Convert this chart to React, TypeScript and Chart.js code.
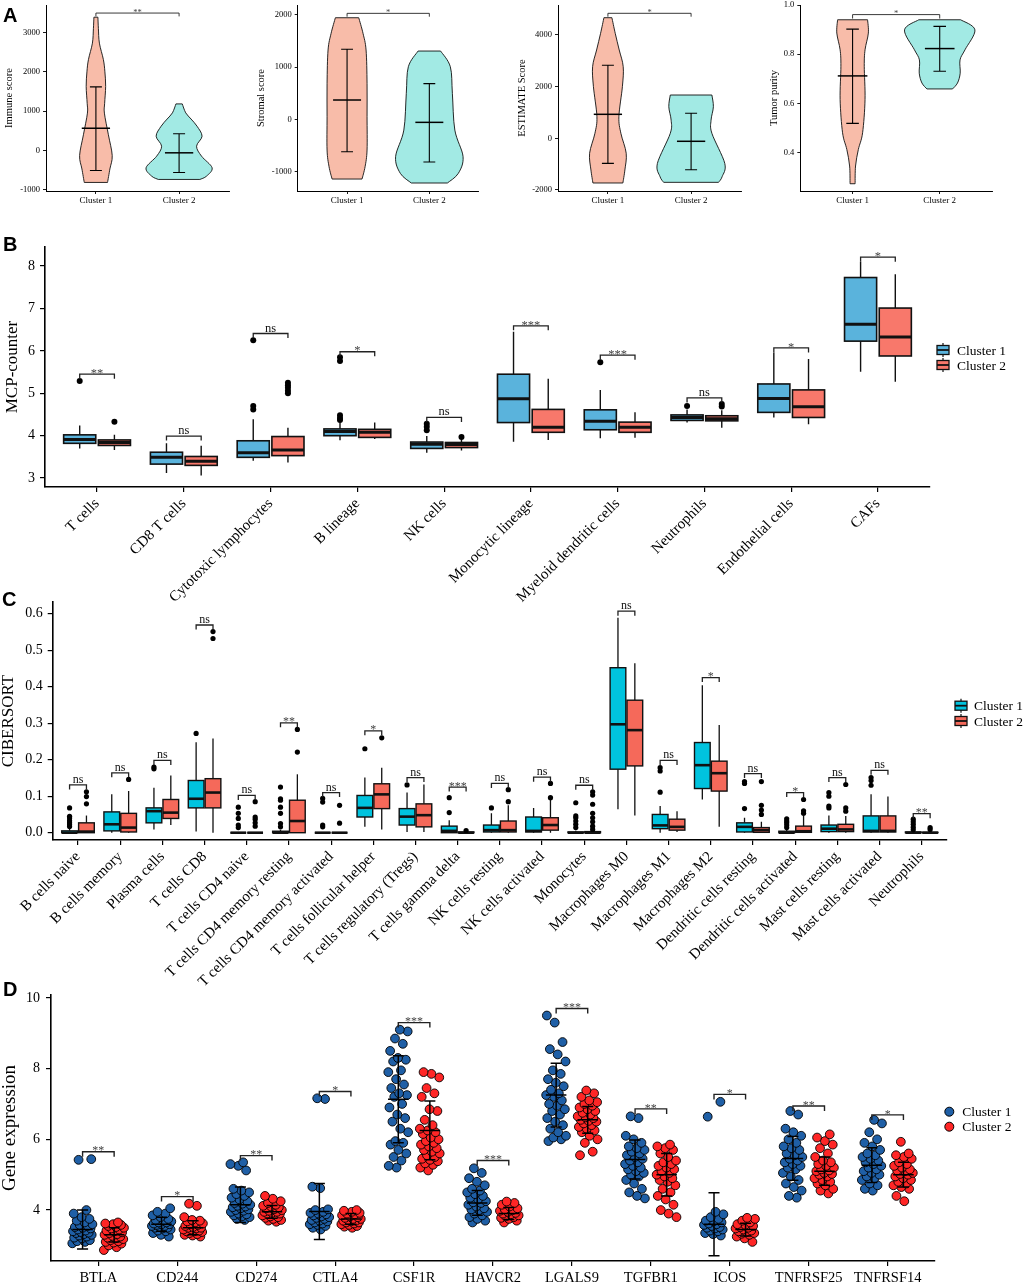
import React, { useEffect, useRef } from "react";
import { Chart, registerables } from "chart.js";
Chart.register(...registerables);

const SERIF = "'Liberation Serif', 'Times New Roman', Times, serif";
const SANS = "'Liberation Sans', Arial, Helvetica, sans-serif";

// ---------------- Panel A (violins) ----------------
const A_GROUPS = ["Cluster 1", "Cluster 2"];
const A_FILL = ["#F8BCA9", "#A2EAE4"];

const IMMUNE_TICKS = [-1000, 0, 1000, 2000, 3000];
const IMMUNE_C1 = [[3390, 0.024], [3100, 0.03], [2730, 0.042], [2310, 0.09], [2000, 0.108], [1630, 0.117], [1200, 0.105], [950, 0.102], [400, 0.15], [-130, 0.196], [-470, 0.168], [-812, 0.14]];
const IMMUNE_C2 = [[1185, 0.038], [957, 0.08], [800, 0.144], [617, 0.216], [363, 0.276], [109, 0.21], [-145, 0.27], [-440, 0.397], [-652, 0.33], [-736, 0.25]];
const IMMUNE_MEAN = [566, -59];
const IMMUNE_LO = [-507, -558];
const IMMUNE_HI = [1617, 424];

const STROMAL_TICKS = [-1000, 0, 1000, 2000];
const STROMAL_C1 = [[1946, 0.142], [1647, 0.194], [1328, 0.231], [690, 0.243], [50, 0.243], [-588, 0.243], [-908, 0.219], [-1144, 0.182]];
const STROMAL_C2 = [[1308, 0.137], [1008, 0.255], [498, 0.28], [-206, 0.31], [-716, 0.41], [-1036, 0.352], [-1220, 0.219]];
const STROMAL_MEAN = [370, -58];
const STROMAL_LO = [-620, -818];
const STROMAL_HI = [1341, 684];

const ESTIMATE_TICKS = [-2000, 0, 2000, 4000];
const ESTIMATE_C1 = [[4666, 0.048], [4062, 0.088], [3416, 0.136], [2770, 0.184], [1996, 0.174], [836, 0.132], [193, 0.156], [-580, 0.22], [-1226, 0.204], [-1729, 0.18]];
const ESTIMATE_C2 = [[1675, 0.25], [1222, 0.268], [700, 0.24], [193, 0.25], [-971, 0.405], [-1486, 0.373], [-1704, 0.33]];
const ESTIMATE_MEAN = [928, -116];
const ESTIMATE_LO = [-971, -1215];
const ESTIMATE_HI = [2824, 967];

const PURITY_TICKS = [0.4, 0.6, 0.8, 1.0];
const PURITY_C1 = [[0.94, 0.172], [0.886, 0.181], [0.818, 0.143], [0.751, 0.134], [0.616, 0.143], [0.481, 0.115], [0.413, 0.066], [0.346, 0.034], [0.274, 0.029]];
const PURITY_C2 = [[0.94, 0.24], [0.899, 0.404], [0.818, 0.29], [0.777, 0.233], [0.723, 0.235], [0.683, 0.204], [0.659, 0.147]];
const PURITY_MEAN = [0.712, 0.823];
const PURITY_LO = [0.519, 0.731];
const PURITY_HI = [0.902, 0.913];

const A_PANELS = [
  { title: "Immune score", min: -1030, max: 3700, ticks: IMMUNE_TICKS, dec: 0, violins: [IMMUNE_C1, IMMUNE_C2], mean: IMMUNE_MEAN, lo: IMMUNE_LO, hi: IMMUNE_HI, sig: "**", sigY: 3495, sigY2: 3410 },
  { title: "Stromal score", min: -1373, max: 2190, ticks: STROMAL_TICKS, dec: 0, violins: [STROMAL_C1, STROMAL_C2], mean: STROMAL_MEAN, lo: STROMAL_LO, hi: STROMAL_HI, sig: "*", sigY: 2030, sigY2: 1966 },
  { title: "ESTIMATE Score", min: -2039, max: 5157, ticks: ESTIMATE_TICKS, dec: 0, violins: [ESTIMATE_C1, ESTIMATE_C2], mean: ESTIMATE_MEAN, lo: ESTIMATE_LO, hi: ESTIMATE_HI, sig: "*", sigY: 4836, sigY2: 4704 },
  { title: "Tumor purity", min: 0.2445, max: 1.0, ticks: PURITY_TICKS, dec: 1, violins: [PURITY_C1, PURITY_C2], mean: PURITY_MEAN, lo: PURITY_LO, hi: PURITY_HI, sig: "*", sigY: 0.961, sigY2: 0.945 },
];
const A_LAYOUT = [
  { left: 0, axisW: 46, padR: 27, titlePad: 3.7 },
  { left: 256, axisW: 41.7, padR: 33.3, titlePad: 0 },
  { left: 512, axisW: 46, padR: 27, titlePad: 5.2 },
  { left: 768, axisW: 32.3, padR: 32, titlePad: 0.7 },
];

// ---------------- Panel B (MCP-counter) ----------------
const B_CATS = ["T cells", "CD8 T cells", "Cytotoxic lymphocytes", "B lineage", "NK cells", "Monocytic lineage", "Myeloid dendritic cells", "Neutrophils", "Endothelial cells", "CAFs"];
const B_YTICKS = [3, 4, 5, 6, 7, 8];
// [min, q1, median, q3, max]
const B_C1_BOX = [
  [3.70, 3.82, 3.91, 4.02, 4.24], [3.12, 3.33, 3.49, 3.61, 3.82], [3.41, 3.49, 3.60, 3.88, 4.39], [3.89, 4.00, 4.10, 4.16, 4.31], [3.60, 3.70, 3.80, 3.85, 3.99],
  [3.86, 4.31, 4.87, 5.45, 6.45], [3.94, 4.14, 4.34, 4.61, 5.08], [4.31, 4.36, 4.43, 4.49, 4.62], [4.43, 4.55, 4.88, 5.22, 5.96], [5.51, 6.23, 6.63, 7.73, 8.10],
];
const B_C2_BOX = [
  [3.66, 3.77, 3.84, 3.90, 4.02], [3.06, 3.30, 3.40, 3.51, 3.76], [3.37, 3.53, 3.66, 3.98, 4.19], [3.92, 3.96, 4.08, 4.15, 4.31], [3.65, 3.72, 3.79, 3.84, 3.95],
  [3.90, 4.08, 4.20, 4.62, 5.34], [3.95, 4.08, 4.20, 4.32, 4.55], [4.19, 4.35, 4.40, 4.47, 4.60], [4.27, 4.43, 4.68, 5.08, 5.81], [5.27, 5.88, 6.33, 7.01, 7.81],
];
const B_C1_OUT = [[5.29], [], [6.25, 4.70, 4.62], [5.85, 5.76, 4.48, 4.42, 4.37], [4.28, 4.21, 4.13], [], [5.73], [4.70], [], []];
const B_C2_OUT = [[4.33], [], [5.25, 5.19, 5.13, 5.06, 5.0], [], [3.97], [], [], [4.75, 4.69], [], []];
const B_SIG = ["**", "ns", "ns", "*", "ns", "***", "***", "ns", "*", "*"];
const B_SIG_Y = [5.45, 3.99, 6.41, 5.98, 4.43, 6.59, 5.90, 4.89, 6.07, 8.21];

// ---------------- Panel C (CIBERSORT) ----------------
const C_CATS = ["B cells naive", "B cells memory", "Plasma cells", "T cells CD8", "T cells CD4 naive", "T cells CD4 memory resting", "T cells CD4 memory activated", "T cells follicular helper", "T cells regulatory (Tregs)", "T cells gamma delta", "NK cells resting", "NK cells activated", "Monocytes", "Macrophages M0", "Macrophages M1", "Macrophages M2", "Dendritic cells resting", "Dendritic cells activated", "Mast cells resting", "Mast cells activated", "Neutrophils"];
const C_YTICKS = [0, 0.1, 0.2, 0.3, 0.4, 0.5, 0.6];
const C_C1_BOX = [
  [0, 0, 0, 0.005, 0.013], [0, 0.005, 0.023, 0.057, 0.105], [0.009, 0.027, 0.059, 0.068, 0.123], [0.003, 0.068, 0.093, 0.143, 0.248], [0, 0, 0, 0, 0],
  [0, 0, 0, 0.004, 0.008], [0, 0, 0, 0, 0], [0.016, 0.043, 0.068, 0.102, 0.151], [0.002, 0.021, 0.044, 0.066, 0.11], [0, 0, 0.005, 0.018, 0.034],
  [0, 0.002, 0.007, 0.021, 0.053], [0, 0.002, 0.005, 0.043, 0.068], [0, 0, 0, 0.002, 0.005], [0.064, 0.174, 0.297, 0.452, 0.589], [0, 0.011, 0.02, 0.05, 0.073],
  [0.091, 0.121, 0.185, 0.247, 0.404], [0, 0.002, 0.016, 0.027, 0.041], [0, 0, 0, 0.004, 0.009], [0, 0.003, 0.011, 0.021, 0.047], [0, 0.002, 0.005, 0.046, 0.105],
  [0, 0, 0, 0.002, 0.004],
];
const C_C2_BOX = [
  [0, 0, 0.003, 0.027, 0.047], [0, 0.002, 0.014, 0.053, 0.114], [0.021, 0.039, 0.055, 0.091, 0.157], [0, 0.068, 0.11, 0.148, 0.258], [0, 0, 0, 0, 0],
  [0, 0, 0.032, 0.089, 0.16], [0, 0, 0, 0, 0], [0.009, 0.066, 0.105, 0.134, 0.178], [0.002, 0.016, 0.048, 0.079, 0.132], [0, 0, 0, 0.002, 0.004],
  [0, 0.002, 0.007, 0.032, 0.075], [0, 0.007, 0.021, 0.041, 0.099], [0, 0, 0, 0.003, 0.006], [0.047, 0.183, 0.281, 0.363, 0.464], [0.002, 0.007, 0.016, 0.037, 0.059],
  [0.016, 0.114, 0.163, 0.196, 0.295], [0, 0.001, 0.007, 0.014, 0.03], [0, 0.001, 0.004, 0.018, 0.046], [0, 0.003, 0.009, 0.023, 0.046], [0, 0.002, 0.005, 0.046, 0.099],
  [0, 0, 0, 0.001, 0.003],
];
const C_C1_OUT = [
  [0.068, 0.045, 0.04, 0.033, 0.027, 0.022, 0.017], [], [0.18, 0.175], [0.272], [0.07, 0.053, 0.039, 0.021, 0.014],
  [0.125, 0.093, 0.089, 0.07, 0.053, 0.025, 0.016], [0.094, 0.084, 0.021, 0.016], [0.23], [0.131], [0.096, 0.055],
  [0.068], [], [0.082, 0.046, 0.041, 0.032, 0.023, 0.014], [], [0.178, 0.169, 0.111],
  [], [0.14, 0.135, 0.066], [0.038, 0.032, 0.027, 0.021, 0.014], [0.11, 0.1, 0.073, 0.068], [0.151, 0.143, 0.13],
  [0.037, 0.03, 0.023, 0.015, 0.008],
];
const C_C2_OUT = [
  [0.112, 0.099, 0.079], [0.146], [], [0.551, 0.532], [0.085, 0.043, 0.037, 0.027, 0.018],
  [0.283, 0.221], [0.075, 0.026], [0.26], [], [0.006],
  [0.118, 0.085], [0.135, 0.096], [0.112, 0.103, 0.078, 0.053, 0.041, 0.03, 0.018, 0.009], [], [],
  [], [0.14, 0.075, 0.062, 0.05], [0.091, 0.06, 0.053], [0.132, 0.068, 0.059], [],
  [0.014, 0.009],
];
const C_SIG = ["ns", "ns", "ns", "ns", "ns", "**", "ns", "*", "ns", "***", "ns", "ns", "ns", "ns", "ns", "*", "ns", "*", "ns", "ns", "**"];
const C_SIG_Y = [0.131, 0.164, 0.198, 0.569, 0.102, 0.301, 0.11, 0.279, 0.151, 0.125, 0.135, 0.152, 0.13, 0.607, 0.198, 0.425, 0.162, 0.11, 0.151, 0.171, 0.052];

// ---------------- Panel D (gene expression) ----------------
const D_GENES = ["BTLA", "CD244", "CD274", "CTLA4", "CSF1R", "HAVCR2", "LGALS9", "TGFBR1", "ICOS", "TNFRSF25", "TNFRSF14"];
const D_YTICKS = [4, 6, 8, 10];
const BTLA_C1 = [3.06, 3.1, 3.12, 3.15, 3.2, 3.22, 3.25, 3.28, 3.3, 3.32, 3.35, 3.36, 3.38, 3.4, 3.42, 3.45, 3.48, 3.5, 3.52, 3.55, 3.58, 3.6, 3.65, 3.7, 3.75, 3.8, 3.9, 4.0, 5.42, 5.44];
const BTLA_C2 = [2.87, 2.95, 3.0, 3.05, 3.08, 3.1, 3.12, 3.15, 3.18, 3.2, 3.22, 3.25, 3.27, 3.3, 3.32, 3.35, 3.37, 3.4, 3.42, 3.45, 3.48, 3.5, 3.52, 3.55, 3.58, 3.6, 3.62, 3.65];
const CD244_C1 = [3.25, 3.3, 3.35, 3.4, 3.42, 3.45, 3.48, 3.5, 3.5, 3.52, 3.55, 3.55, 3.58, 3.6, 3.6, 3.62, 3.65, 3.65, 3.68, 3.7, 3.72, 3.75, 3.8, 3.85, 3.9, 3.95, 4.05];
const CD244_C2 = [3.25, 3.28, 3.3, 3.32, 3.35, 3.38, 3.4, 3.4, 3.42, 3.45, 3.45, 3.48, 3.5, 3.5, 3.52, 3.55, 3.58, 3.6, 3.62, 3.65, 3.68, 3.7, 3.72, 3.8, 4.12, 4.18];
const CD274_C1 = [3.72, 3.75, 3.8, 3.82, 3.85, 3.88, 3.9, 3.95, 3.98, 4.0, 4.02, 4.05, 4.08, 4.1, 4.12, 4.15, 4.18, 4.2, 4.25, 4.3, 4.35, 4.4, 4.45, 4.5, 4.55, 4.6, 5.12, 5.25, 5.3, 5.35];
const CD274_C2 = [3.67, 3.7, 3.72, 3.75, 3.78, 3.8, 3.82, 3.85, 3.88, 3.9, 3.9, 3.92, 3.95, 3.95, 3.98, 4.0, 4.02, 4.05, 4.08, 4.1, 4.12, 4.15, 4.2, 4.25, 4.32, 4.4];
const CTLA4_C1 = [3.45, 3.5, 3.55, 3.58, 3.6, 3.62, 3.65, 3.68, 3.7, 3.72, 3.75, 3.78, 3.8, 3.82, 3.85, 3.88, 3.9, 3.92, 3.95, 4.0, 4.02, 4.62, 4.66, 7.14, 7.16];
const CTLA4_C2 = [3.5, 3.53, 3.55, 3.58, 3.6, 3.62, 3.65, 3.65, 3.68, 3.7, 3.7, 3.72, 3.75, 3.75, 3.78, 3.8, 3.82, 3.85, 3.88, 3.9, 3.92, 3.95, 3.98, 4.0];
const CSF1R_C1 = [5.2, 5.25, 5.4, 5.5, 5.6, 5.7, 5.85, 5.9, 5.95, 6.2, 6.3, 6.5, 6.6, 6.7, 6.9, 7.0, 7.2, 7.25, 7.3, 7.45, 7.55, 7.7, 7.9, 7.95, 8.2, 8.25, 8.3, 8.5, 8.7, 8.85, 9.05, 9.1];
const CSF1R_C2 = [5.12, 5.2, 5.28, 5.32, 5.38, 5.42, 5.45, 5.5, 5.55, 5.6, 5.65, 5.7, 5.75, 5.8, 5.85, 5.9, 5.95, 6.0, 6.05, 6.15, 6.2, 6.25, 6.3, 6.4, 6.55, 6.8, 6.85, 7.2, 7.3, 7.45, 7.75, 7.85, 7.9];
const HAVCR2_C1 = [3.65, 3.7, 3.75, 3.8, 3.85, 3.9, 3.95, 4.0, 4.02, 4.05, 4.1, 4.15, 4.2, 4.22, 4.25, 4.3, 4.35, 4.4, 4.45, 4.5, 4.55, 4.6, 4.7, 4.8, 4.9, 5.05, 5.18];
const HAVCR2_C2 = [3.65, 3.7, 3.75, 3.78, 3.8, 3.82, 3.85, 3.88, 3.9, 3.92, 3.95, 3.98, 4.0, 4.02, 4.05, 4.1, 4.15, 4.2, 4.24];
const LGALS9_C1 = [5.95, 6.0, 6.05, 6.1, 6.2, 6.3, 6.4, 6.5, 6.6, 6.7, 6.8, 6.85, 6.95, 7.0, 7.1, 7.2, 7.25, 7.3, 7.4, 7.5, 7.6, 7.7, 7.85, 7.95, 8.2, 8.4, 8.55, 8.75, 9.3, 9.5];
const LGALS9_C2 = [5.55, 5.65, 5.9, 6.0, 6.1, 6.2, 6.25, 6.3, 6.35, 6.4, 6.45, 6.5, 6.52, 6.55, 6.6, 6.62, 6.65, 6.7, 6.75, 6.8, 6.85, 6.9, 6.95, 7.0, 7.05, 7.1, 7.2, 7.3, 7.38];
const TGFBR1_C1 = [4.33, 4.4, 4.5, 4.6, 4.75, 4.85, 4.95, 5.0, 5.05, 5.1, 5.15, 5.2, 5.25, 5.3, 5.35, 5.4, 5.45, 5.5, 5.55, 5.6, 5.65, 5.7, 5.75, 5.8, 5.9, 6.0, 6.1, 6.6, 6.65];
const TGFBR1_C2 = [3.8, 3.9, 4.0, 4.15, 4.3, 4.4, 4.5, 4.6, 4.7, 4.8, 4.85, 4.9, 4.95, 5.0, 5.05, 5.1, 5.15, 5.2, 5.25, 5.3, 5.35, 5.4, 5.5, 5.6, 5.7, 5.75, 5.8, 5.85];
const ICOS_C1 = [3.28, 3.32, 3.35, 3.4, 3.42, 3.45, 3.48, 3.5, 3.52, 3.55, 3.58, 3.6, 3.62, 3.65, 3.68, 3.7, 3.75, 3.8, 3.88, 3.95, 6.64, 7.06];
const ICOS_C2 = [3.1, 3.2, 3.25, 3.3, 3.33, 3.35, 3.38, 3.4, 3.42, 3.45, 3.48, 3.5, 3.52, 3.55, 3.58, 3.6, 3.65, 3.7, 3.75, 3.78];
const TNFRSF25_C1 = [4.35, 4.4, 4.55, 4.65, 4.75, 4.85, 4.95, 5.05, 5.15, 5.2, 5.25, 5.3, 5.35, 5.4, 5.45, 5.5, 5.55, 5.6, 5.7, 5.75, 5.8, 5.9, 6.0, 6.1, 6.2, 6.3, 6.7, 6.8];
const TNFRSF25_C2 = [4.47, 4.55, 4.6, 4.7, 4.75, 4.8, 4.85, 4.9, 4.95, 5.0, 5.02, 5.05, 5.1, 5.12, 5.15, 5.2, 5.25, 5.3, 5.35, 5.4, 5.5, 5.6, 5.75, 5.85, 5.95, 6.05, 6.14];
const TNFRSF14_C1 = [4.55, 4.6, 4.7, 4.75, 4.85, 4.9, 4.95, 5.0, 5.05, 5.1, 5.15, 5.2, 5.25, 5.3, 5.35, 5.4, 5.45, 5.5, 5.55, 5.6, 5.7, 5.8, 5.9, 6.0, 6.2, 6.45, 6.55];
const TNFRSF14_C2 = [4.25, 4.4, 4.6, 4.65, 4.7, 4.75, 4.8, 4.85, 4.9, 4.95, 5.0, 5.02, 5.05, 5.1, 5.12, 5.15, 5.2, 5.25, 5.3, 5.35, 5.45, 5.5, 5.55, 5.6, 5.93];
const D_C1_POINTS = [BTLA_C1, CD244_C1, CD274_C1, CTLA4_C1, CSF1R_C1, HAVCR2_C1, LGALS9_C1, TGFBR1_C1, ICOS_C1, TNFRSF25_C1, TNFRSF14_C1];
const D_C2_POINTS = [BTLA_C2, CD244_C2, CD274_C2, CTLA4_C2, CSF1R_C2, HAVCR2_C2, LGALS9_C2, TGFBR1_C2, ICOS_C2, TNFRSF25_C2, TNFRSF14_C2];
const D_C1_MEAN = [3.45, 3.6, 4.15, 3.96, 7.13, 4.2, 7.25, 5.43, 3.6, 5.46, 5.27];
const D_C1_SD = [0.55, 0.2, 0.5, 0.79, 1.23, 0.35, 0.9, 0.55, 0.89, 0.62, 0.49];
const D_C2_MEAN = [3.3, 3.5, 3.95, 3.75, 6.25, 3.9, 6.55, 5.0, 3.45, 5.1, 5.0];
const D_C2_SD = [0.2, 0.2, 0.18, 0.15, 0.83, 0.17, 0.38, 0.6, 0.18, 0.4, 0.35];
const D_SIG = ["**", "*", "**", "*", "***", "***", "***", "**", "*", "**", "*"];
const D_SIG_Y = [5.65, 4.38, 5.54, 7.35, 9.3, 5.4, 9.7, 6.86, 7.27, 6.94, 6.69];

const LEGEND_LABELS = ["Cluster 1", "Cluster 2"];

// ---------------- helpers ----------------
function smoothThrough(ctx: any, pts: number[][]) {
  for (let i = 0; i < pts.length - 1; i++) {
    const p0 = pts[i - 1] || pts[i];
    const p1 = pts[i];
    const p2 = pts[i + 1];
    const p3 = pts[i + 2] || p2;
    ctx.bezierCurveTo(
      p1[0] + (p2[0] - p0[0]) / 6, p1[1] + (p2[1] - p0[1]) / 6,
      p2[0] - (p3[0] - p1[0]) / 6, p2[1] - (p3[1] - p1[1]) / 6,
      p2[0], p2[1]
    );
  }
}

function bracket(ctx: any, x1: number, x2: number, yTop: number, yEnd: number, label: string, size: number, lw: number) {
  ctx.save();
  ctx.strokeStyle = "#222";
  ctx.lineWidth = lw;
  ctx.beginPath();
  ctx.moveTo(x1, yEnd);
  ctx.lineTo(x1, yTop);
  ctx.lineTo(x2, yTop);
  ctx.lineTo(x2, yEnd);
  ctx.stroke();
  const star = label.indexOf("*") >= 0;
  ctx.fillStyle = star ? "#444" : "#111";
  ctx.font = `${size}px ${SERIF}`;
  ctx.textAlign = "center";
  ctx.textBaseline = "alphabetic";
  ctx.fillText(label, (x1 + x2) / 2, star ? yTop + size * 0.22 : yTop - 2);
  ctx.restore();
}

function xAxisCfg(labels: string[], o: any) {
  return {
    type: "linear",
    position: "bottom",
    min: o.min !== undefined ? o.min : -0.6,
    max: o.max !== undefined ? o.max : labels.length - 0.4,
    bounds: "data",
    afterBuildTicks: (s: any) => {
      s.ticks = labels.map((_: string, i: number) => ({ value: (o.first || 0) + i }));
    },
    ticks: {
      autoSkip: false,
      callback: (v: number) => labels[Math.round(v - (o.first || 0))],
      font: { family: SERIF, size: o.size },
      color: "#000",
      minRotation: o.rot || 0,
      maxRotation: o.rot || 0,
      padding: o.pad,
    },
    grid: { display: true, drawOnChartArea: false, drawTicks: true, tickLength: o.tickLen, color: "#000", lineWidth: o.tickW },
    border: { display: true, color: "#000", width: o.lw },
    afterFit: (s: any) => {
      s.height = o.height;
      s.paddingLeft = 0;
      s.paddingRight = 0;
    },
  };
}

function yAxisCfg(o: any) {
  return {
    type: "linear",
    position: "left",
    min: o.min,
    max: o.max,
    bounds: "data",
    afterBuildTicks: (s: any) => {
      s.ticks = o.ticks.map((v: number) => ({ value: v }));
    },
    ticks: {
      autoSkip: false,
      callback: (v: number) => v.toFixed(o.dec),
      font: { family: SERIF, size: o.size },
      color: "#000",
      padding: o.pad,
    },
    grid: { display: true, drawOnChartArea: false, drawTicks: true, tickLength: o.tickLen, color: "#000", lineWidth: o.tickW },
    border: { display: true, color: "#000", width: o.lw },
    title: {
      display: true,
      text: o.title,
      color: "#000",
      font: { family: SERIF, size: o.titleSize, lineHeight: 1 },
      padding: { top: o.titlePad, bottom: 0 },
    },
    afterFit: (s: any) => {
      s.width = o.width;
      s.paddingTop = 0;
      s.paddingBottom = 0;
    },
  };
}

const BASE_OPTS = {
  animation: false,
  responsive: false,
  devicePixelRatio: 1,
  events: [],
  plugins: { legend: { display: false }, tooltip: { enabled: false }, title: { display: false } },
};

// ---------------- chart builders ----------------
function makeViolinChart(idx: number, height: number) {
  const p = A_PANELS[idx];
  const L = A_LAYOUT[idx];
  const plugin = {
    id: "violins" + idx,
    beforeDatasetsDraw(chart: any) {
      const { ctx } = chart;
      const x = chart.scales.x;
      const y = chart.scales.y;
      const unit = x.getPixelForValue(1) - x.getPixelForValue(0);
      p.violins.forEach((prof: number[][], g: number) => {
        const cx = x.getPixelForValue(g + 1);
        const right = prof.map(([v, w]) => [cx + w * unit, y.getPixelForValue(v)]);
        const left = prof.map(([v, w]) => [cx - w * unit, y.getPixelForValue(v)]).reverse();
        ctx.save();
        ctx.beginPath();
        ctx.moveTo(right[0][0], right[0][1]);
        smoothThrough(ctx, right);
        ctx.lineTo(left[0][0], left[0][1]);
        smoothThrough(ctx, left);
        ctx.closePath();
        ctx.fillStyle = A_FILL[g];
        ctx.fill();
        ctx.strokeStyle = "#111";
        ctx.lineWidth = 0.9;
        ctx.stroke();
        const lo = y.getPixelForValue(p.lo[g]);
        const hi = y.getPixelForValue(p.hi[g]);
        const m = y.getPixelForValue(p.mean[g]);
        const cap = 0.072 * unit;
        const ml = 0.17 * unit;
        ctx.strokeStyle = "#000";
        ctx.lineWidth = 1.1;
        ctx.beginPath();
        ctx.moveTo(cx, lo); ctx.lineTo(cx, hi);
        ctx.moveTo(cx - cap, lo); ctx.lineTo(cx + cap, lo);
        ctx.moveTo(cx - cap, hi); ctx.lineTo(cx + cap, hi);
        ctx.stroke();
        ctx.lineWidth = 1.5;
        ctx.beginPath();
        ctx.moveTo(cx - ml, m); ctx.lineTo(cx + ml, m);
        ctx.stroke();
        ctx.restore();
      });
      bracket(ctx, x.getPixelForValue(1), x.getPixelForValue(2), y.getPixelForValue(p.sigY), y.getPixelForValue(p.sigY2), p.sig, 8.5, 0.9);
    },
  };
  return {
    type: "scatter",
    data: { datasets: [{ data: p.mean.map((v: number, i: number) => ({ x: i + 1, y: v })), pointRadius: 0 }] },
    options: {
      ...BASE_OPTS,
      layout: { padding: { top: 5, right: L.padR, left: 0, bottom: 0 } },
      scales: {
        x: xAxisCfg(A_GROUPS, { min: 0.4, max: 2.6, first: 1, size: 9, pad: 1, tickLen: 3, tickW: 0.9, lw: 1, height: height - 191 }),
        y: yAxisCfg({ min: p.min, max: p.max, ticks: p.ticks, dec: p.dec, size: 8.5, pad: 3, tickLen: 3, tickW: 0.9, lw: 1, title: p.title, titleSize: 10.5, titlePad: L.titlePad, width: L.axisW }),
      },
    },
    plugins: [plugin],
  };
}

function makeBoxChart(q: any) {
  const outData = (outs: number[][], sign: number) =>
    outs.flatMap((arr, i) => arr.map((v) => ({ x: i + sign * q.off, y: v })));
  const plugin = {
    id: "boxes" + q.id,
    beforeDatasetsDraw(chart: any) {
      const { ctx } = chart;
      const x = chart.scales.x;
      const y = chart.scales.y;
      const unit = x.getPixelForValue(1) - x.getPixelForValue(0);
      const hw = q.halfW * unit;
      [q.box1, q.box2].forEach((arr: number[][], k: number) => {
        arr.forEach((b, i) => {
          const cx = x.getPixelForValue(i + (k ? q.off : -q.off));
          const [mn, q1, md, q3, mx] = b.map((v) => y.getPixelForValue(v));
          ctx.save();
          ctx.strokeStyle = "#111";
          ctx.lineWidth = q.wLw;
          ctx.beginPath();
          ctx.moveTo(cx, q3); ctx.lineTo(cx, mx);
          ctx.moveTo(cx, q1); ctx.lineTo(cx, mn);
          ctx.stroke();
          ctx.fillStyle = q.colors[k];
          ctx.fillRect(cx - hw, q3, 2 * hw, q1 - q3);
          ctx.lineWidth = q.boxLw;
          ctx.strokeRect(cx - hw, q3, 2 * hw, q1 - q3);
          ctx.lineWidth = q.medLw;
          ctx.beginPath();
          ctx.moveTo(cx - hw, md); ctx.lineTo(cx + hw, md);
          ctx.stroke();
          ctx.restore();
        });
      });
    },
    afterDatasetsDraw(chart: any) {
      const { ctx } = chart;
      const x = chart.scales.x;
      const y = chart.scales.y;
      q.sig.forEach((s: string, i: number) => {
        const yt = y.getPixelForValue(q.sigY[i]);
        bracket(ctx, x.getPixelForValue(i - q.off), x.getPixelForValue(i + q.off), yt, yt + q.drop, s, q.sigSize, 1.3);
      });
      // legend
      LEGEND_LABELS.forEach((lab, k) => {
        const lx = q.legX;
        const ly = q.legY[k];
        ctx.save();
        ctx.strokeStyle = "#111";
        ctx.lineWidth = 1.2;
        ctx.beginPath();
        ctx.moveTo(lx + 6, ly - 7); ctx.lineTo(lx + 6, ly + 7);
        ctx.stroke();
        ctx.fillStyle = q.colors[k];
        ctx.fillRect(lx, ly - 4.5, 12, 9);
        ctx.lineWidth = 1.3;
        ctx.strokeRect(lx, ly - 4.5, 12, 9);
        ctx.lineWidth = 1.8;
        ctx.beginPath();
        ctx.moveTo(lx, ly); ctx.lineTo(lx + 12, ly);
        ctx.stroke();
        ctx.fillStyle = "#000";
        ctx.font = `${q.legSize}px ${SERIF}`;
        ctx.textAlign = "left";
        ctx.textBaseline = "middle";
        ctx.fillText(lab, q.legTextX, ly + 1);
        ctx.restore();
      });
    },
  };
  return {
    type: "scatter",
    data: {
      datasets: [
        { data: outData(q.out1, -1), pointRadius: q.outR, backgroundColor: "#000", borderWidth: 0 },
        { data: outData(q.out2, 1), pointRadius: q.outR, backgroundColor: "#000", borderWidth: 0 },
      ],
    },
    options: {
      ...BASE_OPTS,
      layout: { padding: { top: q.padTop, right: q.padR, left: 0, bottom: 0 } },
      scales: {
        x: xAxisCfg(q.cats, { size: 15, rot: 45, pad: 3, tickLen: 5, tickW: 1.2, lw: 1.6, height: q.xH }),
        y: yAxisCfg({ min: q.min, max: q.max, ticks: q.ticks, dec: q.dec, size: 14, pad: 5, tickLen: 5, tickW: 1.2, lw: 1.6, title: q.title, titleSize: 17, titlePad: q.titlePad, width: q.yW }),
      },
    },
    plugins: [plugin],
  };
}

function makeDotChart() {
  const OFF = 0.2;
  const JIT = 0.13;
  const jit = (i: number) => (((i * 0.6180339887) % 1) - 0.5) * 2 * JIT;
  const pts = (groups: number[][], sign: number) =>
    groups.flatMap((arr, g) => arr.map((v, i) => ({ x: g + sign * OFF + jit(i + g * 3), y: v })));
  const colors = ["#1F5FA6", "#FF2626"];
  const plugin = {
    id: "dotsD",
    afterDatasetsDraw(chart: any) {
      const { ctx } = chart;
      const x = chart.scales.x;
      const y = chart.scales.y;
      const unit = x.getPixelForValue(1) - x.getPixelForValue(0);
      [[D_C1_MEAN, D_C1_SD], [D_C2_MEAN, D_C2_SD]].forEach(([means, sds], k) => {
        means.forEach((m: number, g: number) => {
          const cx = x.getPixelForValue(g + (k ? OFF : -OFF));
          const lo = y.getPixelForValue(m - sds[g]);
          const hi = y.getPixelForValue(m + sds[g]);
          const mp = y.getPixelForValue(m);
          const cap = 0.07 * unit;
          const ml = 0.13 * unit;
          ctx.save();
          ctx.strokeStyle = "#000";
          ctx.lineWidth = 1.5;
          ctx.beginPath();
          ctx.moveTo(cx, lo); ctx.lineTo(cx, hi);
          ctx.moveTo(cx - cap, lo); ctx.lineTo(cx + cap, lo);
          ctx.moveTo(cx - cap, hi); ctx.lineTo(cx + cap, hi);
          ctx.moveTo(cx - ml, mp); ctx.lineTo(cx + ml, mp);
          ctx.stroke();
          ctx.restore();
        });
      });
      D_SIG.forEach((s, i) => {
        const yt = y.getPixelForValue(D_SIG_Y[i]);
        bracket(ctx, x.getPixelForValue(i - OFF), x.getPixelForValue(i + OFF), yt, yt + 5, s, 12, 1.4);
      });
      LEGEND_LABELS.forEach((lab, k) => {
        const ly = [186.7, 201.7][k];
        ctx.save();
        ctx.beginPath();
        ctx.arc(949.3, ly, 4.5, 0, Math.PI * 2);
        ctx.fillStyle = colors[k];
        ctx.fill();
        ctx.strokeStyle = "#000";
        ctx.lineWidth = 1;
        ctx.stroke();
        ctx.fillStyle = "#000";
        ctx.font = `13.5px ${SERIF}`;
        ctx.textAlign = "left";
        ctx.textBaseline = "middle";
        ctx.fillText(lab, 962.3, ly + 1);
        ctx.restore();
      });
    },
  };
  return {
    type: "scatter",
    data: {
      datasets: [
        { data: pts(D_C1_POINTS, -1), pointRadius: 4.4, backgroundColor: colors[0], borderColor: "#000", borderWidth: 0.9 },
        { data: pts(D_C2_POINTS, 1), pointRadius: 4.4, backgroundColor: colors[1], borderColor: "#000", borderWidth: 0.9 },
      ],
    },
    options: {
      ...BASE_OPTS,
      layout: { padding: { top: 70, right: 89, left: 0, bottom: 0 } },
      scales: {
        x: xAxisCfg(D_GENES, { size: 14.5, pad: 3, tickLen: 5, tickW: 1.2, lw: 1.6, height: 23 }),
        y: yAxisCfg({ min: 2.56, max: 10.08, ticks: D_YTICKS, dec: 0, size: 14, pad: 6, tickLen: 5, tickW: 1.2, lw: 1.6, title: "Gene expression", titleSize: 19, titlePad: 0.5, width: 51 }),
      },
    },
    plugins: [plugin],
  };
}

function ChartCanvas({ left, top, width, height, make }: any) {
  const ref = useRef<HTMLCanvasElement | null>(null);
  useEffect(() => {
    const chart = new Chart(ref.current as any, make() as any);
    return () => chart.destroy();
  }, []);
  return (
    <canvas
      ref={ref}
      width={width}
      height={height}
      style={{ position: "absolute", left, top, width, height }}
    />
  );
}

const letterStyle: any = {
  position: "absolute",
  fontFamily: SANS,
  fontWeight: "bold",
  fontSize: 20,
  lineHeight: "20px",
  color: "#000",
};

export default function App() {
  useEffect(() => {
    document.body.style.margin = "0";
  }, []);
  const A_H = 215;
  return (
    <div style={{ position: "absolute", left: 0, top: 0, width: 1024, height: 1284, background: "#fff", overflow: "hidden" }}>
      {A_LAYOUT.map((L, i) => (
        <ChartCanvas key={"a" + i} left={L.left} top={0} width={256} height={A_H} make={() => makeViolinChart(i, A_H)} />
      ))}
      <ChartCanvas
        left={0}
        top={205}
        width={1024}
        height={400}
        make={() =>
          makeBoxChart({
            id: "B", cats: B_CATS, box1: B_C1_BOX, box2: B_C2_BOX, out1: B_C1_OUT, out2: B_C2_OUT,
            sig: B_SIG, sigY: B_SIG_Y, colors: ["#5AB3DC", "#F8786B"], off: 0.2, halfW: 0.185,
            wLw: 1.4, boxLw: 1.6, medLw: 3, outR: 3, drop: 4.5, sigSize: 12.5,
            min: 2.79, max: 8.45, ticks: B_YTICKS, dec: 0, title: "MCP-counter", titlePad: 4.3, yW: 45,
            padTop: 42, padR: 94, xH: 118, legX: 937, legY: [145, 160], legTextX: 957, legSize: 13.5,
          })
        }
      />
      <ChartCanvas
        left={0}
        top={565}
        width={1024}
        height={430}
        make={() =>
          makeBoxChart({
            id: "C", cats: C_CATS, box1: C_C1_BOX, box2: C_C2_BOX, out1: C_C1_OUT, out2: C_C2_OUT,
            sig: C_SIG, sigY: C_SIG_Y, colors: ["#00C3DE", "#F5695A"], off: 0.2, halfW: 0.186,
            wLw: 1.3, boxLw: 1.4, medLw: 2.6, outR: 2.6, drop: 4.5, sigSize: 12,
            min: -0.02, max: 0.632, ticks: C_YTICKS, dec: 1, title: "CIBERSORT", titlePad: 0.3, yW: 52.7,
            padTop: 37, padR: 77, xH: 155, legX: 955, legY: [140.7, 156], legTextX: 974, legSize: 13.5,
          })
        }
      />
      <ChartCanvas left={0} top={925} width={1024} height={359} make={makeDotChart} />
      <div style={{ ...letterStyle, left: 3, top: 5 }}>A</div>
      <div style={{ ...letterStyle, left: 3, top: 234 }}>B</div>
      <div style={{ ...letterStyle, left: 2, top: 589 }}>C</div>
      <div style={{ ...letterStyle, left: 3, top: 979 }}>D</div>
    </div>
  );
}
